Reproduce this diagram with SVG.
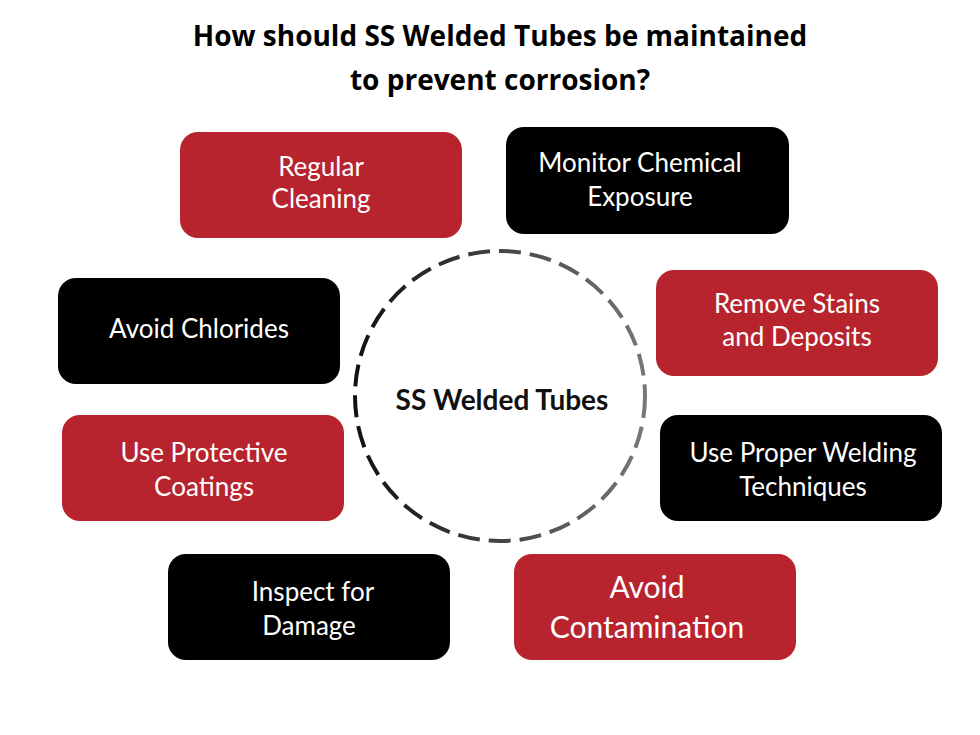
<svg xmlns="http://www.w3.org/2000/svg" width="980" height="735" viewBox="0 0 980 735">
<defs>
<linearGradient id="g" x1="0" y1="0" x2="1" y2="0"><stop offset="0" stop-color="#111"/><stop offset="1" stop-color="#777"/></linearGradient>
</defs>
<style>
.r{fill:#b8242e}.k{fill:#000}
.t{fill:#fff;font-family:Lato,"Open Sans",sans-serif;font-size:26px;text-anchor:middle}
.h{font-family:"Open Sans",Lato,sans-serif;font-weight:bold;font-size:28px;text-anchor:middle;fill:#000}
</style>
<rect width="980" height="735" fill="#fff"/>
<text class="h" x="500" y="46">How should SS Welded Tubes be maintained</text>
<text class="h" x="500" y="90">to prevent corrosion?</text>
<g id="center">
<circle cx="500" cy="396" r="145" fill="#fff" stroke="url(#g)" stroke-width="4" stroke-dasharray="22 9"/>
<text x="502" y="410" style="font-family:Lato,sans-serif;font-weight:bold;font-size:28px;text-anchor:middle;fill:#111">SS Welded Tubes</text>
</g>
<g id="n1"><rect class="r" x="180" y="132" width="282" height="106" rx="18"/><text class="t" x="321" y="176">Regular</text><text class="t" x="321" y="208">Cleaning</text></g>
<g id="n2"><rect class="k" x="506" y="127" width="283" height="107" rx="18"/><text class="t" x="640" y="172">Monitor Chemical</text><text class="t" x="640" y="206">Exposure</text></g>
<g id="n3"><rect class="k" x="58" y="278" width="282" height="106" rx="18"/><text class="t" x="199" y="338">Avoid Chlorides</text></g>
<g id="n4"><rect class="r" x="656" y="270" width="282" height="106" rx="18"/><text class="t" x="797" y="313">Remove Stains</text><text class="t" x="797" y="346">and Deposits</text></g>
<g id="n5"><rect class="r" x="62" y="415" width="282" height="106" rx="18"/><text class="t" x="204" y="462">Use Protective</text><text class="t" x="204" y="496">Coatings</text></g>
<g id="n6"><rect class="k" x="660" y="415" width="282" height="106" rx="18"/><text class="t" x="803" y="462">Use Proper Welding</text><text class="t" x="803" y="496">Techniques</text></g>
<g id="n7"><rect class="k" x="168" y="554" width="282" height="106" rx="18"/><text class="t" x="313" y="601">Inspect for</text><text class="t" x="309" y="635">Damage</text></g>
<g id="n8"><rect class="r" x="514" y="554" width="282" height="106" rx="18"/><text class="t" x="647" y="598" style="font-size:30px">Avoid</text><text class="t" x="647" y="638" style="font-size:30px">Contamination</text></g>
<g id="connectors"/>
</svg>
